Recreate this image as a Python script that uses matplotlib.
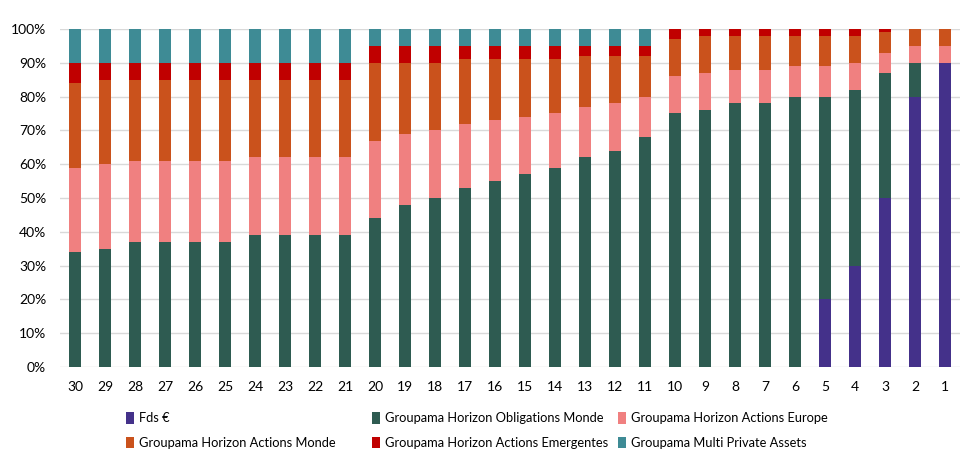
import matplotlib.pyplot as plt
import numpy as np

plt.rcParams['font.family'] = ['Lato', 'DejaVu Sans']

# data (percent of allocation)
horizons = [str(h) for h in range(30, 0, -1)]

fds_euro = [0] * 25 + [20, 30, 50, 80, 90]
oblig_monde = [34, 35, 37, 37, 37, 37, 39, 39, 39, 39,
               44, 48, 50, 53, 55, 57, 59, 62, 64, 68,
               75, 76, 78, 78, 80, 60, 52, 37, 10, 0]
actions_europe = [25, 25, 24, 24, 24, 24, 23, 23, 23, 23,
                  23, 21, 20, 19, 18, 17, 16, 15, 14, 12,
                  11, 11, 10, 10, 9, 9, 8, 6, 5, 5]
actions_monde = [25, 25, 24, 24, 24, 24, 23, 23, 23, 23,
                 23, 21, 20, 19, 18, 17, 16, 15, 14, 12,
                 11, 11, 10, 10, 9, 9, 8, 6, 5, 5]
actions_emerg = [6, 5, 5, 5, 5, 5, 5, 5, 5, 5,
                 5, 5, 5, 4, 4, 4, 4, 3, 3, 3,
                 3, 2, 2, 2, 2, 2, 2, 1, 0, 0]
private_assets = [10] * 10 + [5] * 10 + [0] * 10

series = [
    ('Fds €', fds_euro, '#44318A'),
    ('Groupama Horizon Obligations Monde', oblig_monde, '#2E5B51'),
    ('Groupama Horizon Actions Europe', actions_europe, '#F08080'),
    ('Groupama Horizon Actions Monde', actions_monde, '#CA521C'),
    ('Groupama Horizon Actions Emergentes', actions_emerg, '#C00000'),
    ('Groupama Multi Private Assets', private_assets, '#3E8B95'),
]

fig = plt.figure(figsize=(9.77, 4.73), dpi=100)
ax = fig.add_axes([60 / 977, 106 / 473, 900 / 977, 338 / 473])

x = np.arange(len(horizons))
bottom = np.zeros(len(horizons))
handles = {}
for name, vals, color in series:
    vals = np.array(vals, dtype=float)
    b = ax.bar(x, vals, width=0.4, bottom=bottom, color=color, zorder=3)
    handles[name] = b
    bottom += vals

ax.set_xlim(-0.5, len(horizons) - 0.5)
ax.set_ylim(0, 100)
ax.set_yticks(np.arange(0, 101, 10))
ax.set_yticklabels([f'{v}%' for v in range(0, 101, 10)])
ax.set_xticks(x)
ax.set_xticklabels(horizons)
ax.tick_params(axis='both', length=0, labelsize=10, colors='#000000')
ax.tick_params(axis='y', pad=10)
ax.tick_params(axis='x', pad=10)
ax.grid(axis='y', color='#D9D9D9', linewidth=1, zorder=0)
for s in ax.spines.values():
    s.set_visible(False)

# legend laid out like the Excel one: two rows, three equal columns
columns = [
    (130, ['Fds €', 'Groupama Horizon Actions Monde']),
    (376, ['Groupama Horizon Obligations Monde', 'Groupama Horizon Actions Emergentes']),
    (622, ['Groupama Horizon Actions Europe', 'Groupama Multi Private Assets']),
]
for xpos, names in columns:
    leg = fig.legend([handles[n] for n in names], names,
                     loc='upper left', bbox_to_anchor=((xpos - 9) / 977, 1 - 407 / 473),
                     frameon=False, fontsize=9.3, handlelength=0.6, handleheight=1.0,
                     handletextpad=0.4, labelspacing=0.95, borderaxespad=0)

fig.savefig('out.png', dpi=100)
